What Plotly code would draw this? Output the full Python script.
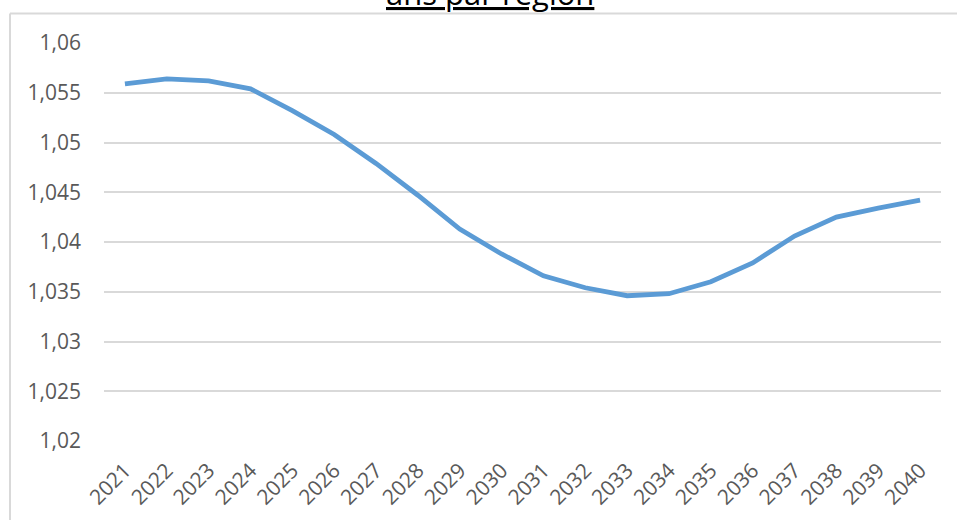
import plotly.graph_objects as go

# Ratio projeté par année
years = list(range(2021, 2041))
ratio = [1.0559, 1.0564, 1.0562, 1.0554, 1.0532, 1.0508, 1.0479, 1.0447,
         1.0413, 1.0388, 1.0366, 1.0354, 1.0346, 1.0348, 1.0360, 1.0379,
         1.0406, 1.0425, 1.0434, 1.0442]

y_tickvals = [1.02, 1.025, 1.03, 1.035, 1.04, 1.045, 1.05, 1.055, 1.06]
y_ticktext = ["1,02", "1,025", "1,03", "1,035", "1,04", "1,045", "1,05", "1,055", "1,06"]
x_ticktext = [str(y) for y in years]

title_text = "ans par région"

FONT = "Open Sans"
TICK_COLOR = "#595959"
GRID_COLOR = "#d9d9d9"

fig = go.Figure()
fig.add_trace(go.Scatter(
    x=years, y=ratio, mode="lines",
    line=dict(color="#5b9bd5", width=4.8),
    hoverinfo="x+y",
))

fig.update_layout(
    width=957, height=520,
    margin=dict(l=104, r=16, t=43, b=79),
    paper_bgcolor="white", plot_bgcolor="white",
    showlegend=False,
    font=dict(family=FONT, color=TICK_COLOR),
    xaxis=dict(
        range=[2020.5, 2040.5],
        tickvals=years, ticktext=x_ticktext,
        tickangle=-45,
        tickfont=dict(size=21, color=TICK_COLOR, family=FONT),
        showgrid=False, zeroline=False, showline=False,
        ticks="",
        ticklabelstandoff=12,
        automargin=False,
    ),
    yaxis=dict(
        range=[1.02, 1.06],
        tickvals=y_tickvals, ticktext=y_ticktext,
        tickfont=dict(size=21, color=TICK_COLOR, family=FONT),
        showgrid=True, gridcolor=GRID_COLOR, gridwidth=2,
        zeroline=False, showline=False, ticks="",
        ticklabelstandoff=22,
        automargin=False,
    ),
)

# Chart frame (left and top edges)
plot_w, plot_h = 837, 398
left_px, top_px = 10, 13.5
fx = (left_px - 104) / plot_w
fy = (441 - top_px) / plot_h
fig.add_shape(type="line", xref="paper", yref="paper",
              x0=fx, x1=fx, y0=-0.4, y1=fy,
              line=dict(color=GRID_COLOR, width=2))
fig.add_shape(type="line", xref="paper", yref="paper",
              x0=fx, x1=1.1, y0=fy, y1=fy,
              line=dict(color=GRID_COLOR, width=2))

# Title (partly above the visible area)
fig.add_annotation(
    text="<u>" + title_text + "</u>",
    xref="paper", yref="paper",
    x=(490 - 104) / plot_w, y=(441 - 16) / plot_h,
    xanchor="center", yanchor="bottom",
    showarrow=False,
    font=dict(family=FONT, size=31, color="black"),
)

fig.write_html("out.html")
